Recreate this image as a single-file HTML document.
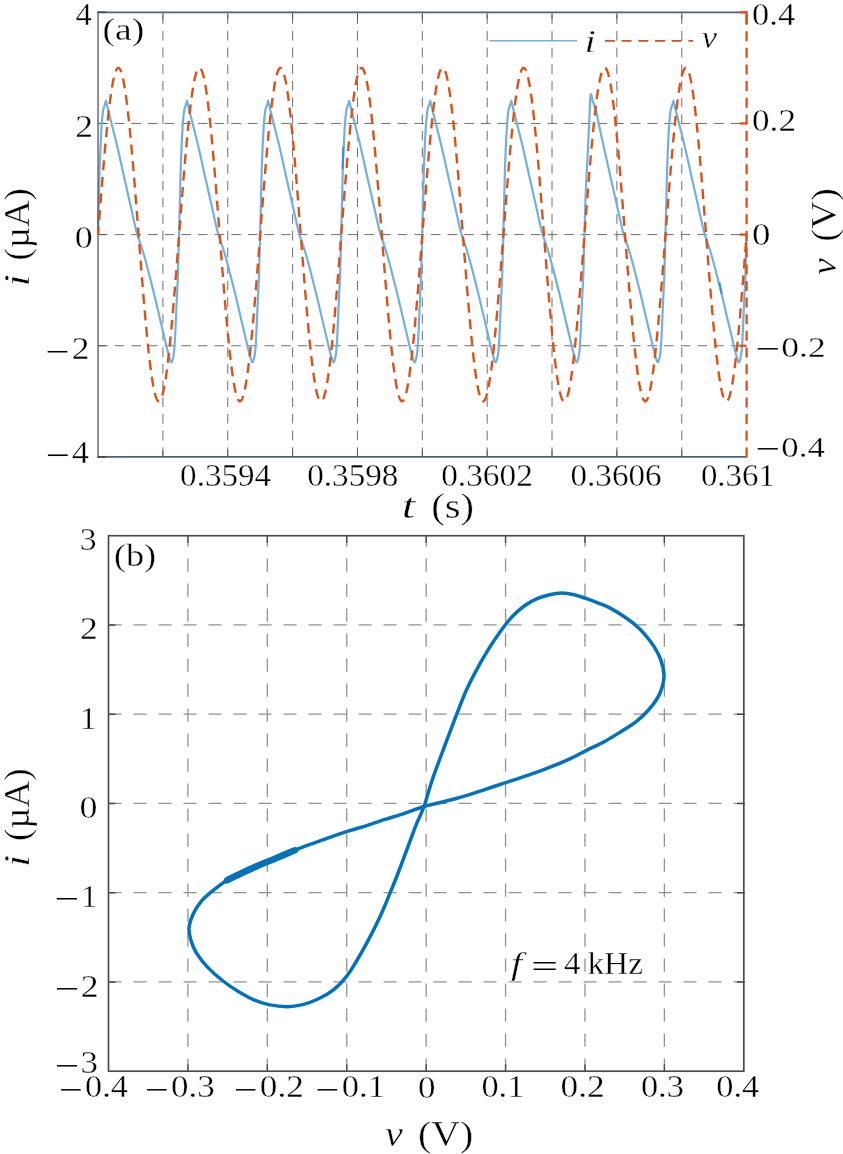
<!DOCTYPE html>
<html><head><meta charset="utf-8"><title>figure</title>
<style>html,body{margin:0;padding:0;background:#fff}svg{display:block}text{font-family:"Liberation Serif",serif;font-size:28.0px;fill:#000;stroke:#fff;stroke-width:0.3px}</style></head>
<body><svg width="843" height="1154" viewBox="0 0 843 1154">
<rect width="843" height="1154" fill="#fff"/>
<g stroke="#5e5e5e" stroke-width="0.9" stroke-dasharray="9.6 7.05" fill="none"><path d="M162.91 456.90V12.30"/><path d="M227.76 456.90V12.30"/><path d="M292.62 456.90V12.30"/><path d="M357.47 456.90V12.30"/><path d="M422.33 456.90V12.30"/><path d="M487.18 456.90V12.30"/><path d="M552.03 456.90V12.30"/><path d="M616.89 456.90V12.30"/><path d="M681.75 456.90V12.30"/><path d="M98.05 123.45H746.60"/><path d="M98.05 234.60H746.60"/><path d="M98.05 345.75H746.60"/></g>
<g stroke="#555" stroke-width="0.9" fill="none"><path d="M162.91 12.30v7M162.91 456.90v-7"/><path d="M227.76 12.30v7M227.76 456.90v-7"/><path d="M292.62 12.30v7M292.62 456.90v-7"/><path d="M357.47 12.30v7M357.47 456.90v-7"/><path d="M422.33 12.30v7M422.33 456.90v-7"/><path d="M487.18 12.30v7M487.18 456.90v-7"/><path d="M552.03 12.30v7M552.03 456.90v-7"/><path d="M616.89 12.30v7M616.89 456.90v-7"/><path d="M681.75 12.30v7M681.75 456.90v-7"/><path d="M98.05 123.45h8"/><path d="M98.05 234.60h8"/><path d="M98.05 345.75h8"/></g>
<path d="M98.05 234.60C98.08 232.66 98.03 232.04 98.20 224.90C98.37 217.76 98.64 209.30 98.90 198.90C99.16 188.50 99.18 183.30 99.50 172.90C99.82 162.50 100.04 156.84 100.50 146.90C100.96 136.96 101.28 130.46 101.80 123.20C102.32 115.94 102.58 114.04 103.10 110.60C103.62 107.16 103.89 107.72 104.40 106.00C104.91 104.28 105.34 103.04 105.65 102.00C105.96 100.96 105.82 100.76 105.95 100.80C106.08 100.84 105.83 100.24 106.30 102.20C106.77 104.16 107.26 106.40 108.30 110.60C109.34 114.80 109.68 115.94 111.50 123.20C113.32 130.46 115.06 136.96 117.40 146.90C119.74 156.84 120.86 162.50 123.20 172.90C125.54 183.30 126.76 188.50 129.10 198.90C131.44 209.30 133.25 217.76 134.90 224.90C136.55 232.04 135.59 228.78 137.35 234.60C139.11 240.42 141.25 245.70 143.70 254.00C146.16 262.30 147.39 267.54 149.61 276.10C151.83 284.66 152.73 288.24 154.81 296.80C156.89 305.36 157.93 310.06 160.01 318.90C162.09 327.74 163.39 333.46 165.21 341.00C167.03 348.54 167.87 352.32 169.11 356.60C170.35 360.88 170.57 362.40 171.41 362.40C172.25 362.40 172.67 359.90 173.31 356.60C173.95 353.30 174.09 353.44 174.61 345.90C175.13 338.36 175.45 328.72 175.91 318.90C176.37 309.08 176.51 305.36 176.91 296.80C177.31 288.24 177.59 284.66 177.91 276.10C178.23 267.54 178.27 262.30 178.51 254.00C178.75 245.70 178.97 240.42 179.12 234.60C179.27 228.78 179.10 232.04 179.27 224.90C179.44 217.76 179.71 209.30 179.97 198.90C180.23 188.50 180.25 183.30 180.57 172.90C180.89 162.50 181.11 156.84 181.57 146.90C182.03 136.96 182.35 130.46 182.87 123.20C183.39 115.94 183.65 114.04 184.17 110.60C184.69 107.16 184.96 107.72 185.47 106.00C185.98 104.28 186.41 103.04 186.72 102.00C187.03 100.96 186.89 100.76 187.02 100.80C187.15 100.84 186.90 100.24 187.37 102.20C187.84 104.16 188.33 106.40 189.37 110.60C190.41 114.80 190.75 115.94 192.57 123.20C194.39 130.46 196.13 136.96 198.47 146.90C200.81 156.84 201.93 162.50 204.27 172.90C206.61 183.30 207.83 188.50 210.17 198.90C212.51 209.30 214.32 217.76 215.97 224.90C217.62 232.04 216.66 228.78 218.42 234.60C220.18 240.42 222.32 245.70 224.77 254.00C227.22 262.30 228.45 267.54 230.67 276.10C232.89 284.66 233.79 288.24 235.87 296.80C237.96 305.36 239.00 310.06 241.08 318.90C243.16 327.74 244.46 333.46 246.28 341.00C248.10 348.54 248.94 352.32 250.18 356.60C251.42 360.88 251.64 362.40 252.48 362.40C253.32 362.40 253.74 359.90 254.38 356.60C255.02 353.30 255.16 353.44 255.68 345.90C256.20 338.36 256.52 328.72 256.98 318.90C257.44 309.08 257.58 305.36 257.98 296.80C258.38 288.24 258.66 284.66 258.98 276.10C259.30 267.54 259.34 262.30 259.58 254.00C259.82 245.70 260.04 240.42 260.19 234.60C260.34 228.78 260.17 232.04 260.34 224.90C260.51 217.76 260.78 209.30 261.04 198.90C261.30 188.50 261.32 183.30 261.64 172.90C261.96 162.50 262.18 156.84 262.64 146.90C263.10 136.96 263.42 130.46 263.94 123.20C264.46 115.94 264.72 114.04 265.24 110.60C265.76 107.16 266.03 107.72 266.54 106.00C267.05 104.28 267.48 103.04 267.79 102.00C268.10 100.96 267.96 100.76 268.09 100.80C268.22 100.84 267.97 100.24 268.44 102.20C268.91 104.16 269.40 106.40 270.44 110.60C271.48 114.80 271.82 115.94 273.64 123.20C275.46 130.46 277.20 136.96 279.54 146.90C281.88 156.84 283.00 162.50 285.34 172.90C287.68 183.30 288.90 188.50 291.24 198.90C293.58 209.30 295.39 217.76 297.04 224.90C298.69 232.04 297.73 228.78 299.49 234.60C301.25 240.42 303.39 245.70 305.84 254.00C308.29 262.30 309.52 267.54 311.74 276.10C313.96 284.66 314.86 288.24 316.94 296.80C319.02 305.36 320.06 310.06 322.14 318.90C324.22 327.74 325.52 333.46 327.34 341.00C329.16 348.54 330.01 352.32 331.25 356.60C332.49 360.88 332.71 362.40 333.55 362.40C334.39 362.40 334.81 359.90 335.45 356.60C336.09 353.30 336.23 353.44 336.75 345.90C337.27 338.36 337.59 328.72 338.05 318.90C338.51 309.08 338.65 305.36 339.05 296.80C339.45 288.24 339.73 284.66 340.05 276.10C340.37 267.54 340.40 262.30 340.65 254.00C340.89 245.70 341.10 240.42 341.26 234.60C341.41 228.78 341.24 232.04 341.41 224.90C341.58 217.76 341.85 209.30 342.11 198.90C342.37 188.50 342.39 183.30 342.71 172.90C343.03 162.50 343.25 156.84 343.71 146.90C344.17 136.96 344.49 130.46 345.01 123.20C345.53 115.94 345.79 114.04 346.31 110.60C346.83 107.16 347.10 107.72 347.61 106.00C348.12 104.28 348.55 103.04 348.86 102.00C349.17 100.96 349.03 100.76 349.16 100.80C349.29 100.84 349.04 100.24 349.51 102.20C349.98 104.16 350.47 106.40 351.51 110.60C352.55 114.80 352.89 115.94 354.71 123.20C356.53 130.46 358.27 136.96 360.61 146.90C362.95 156.84 364.07 162.50 366.41 172.90C368.75 183.30 369.97 188.50 372.31 198.90C374.65 209.30 376.46 217.76 378.11 224.90C379.76 232.04 378.80 228.78 380.56 234.60C382.32 240.42 384.46 245.70 386.91 254.00C389.36 262.30 390.59 267.54 392.81 276.10C395.03 284.66 395.93 288.24 398.01 296.80C400.09 305.36 401.13 310.06 403.21 318.90C405.29 327.74 406.59 333.46 408.41 341.00C410.23 348.54 411.07 352.32 412.31 356.60C413.55 360.88 413.77 362.40 414.61 362.40C415.45 362.40 415.87 359.90 416.51 356.60C417.15 353.30 417.29 353.44 417.81 345.90C418.33 338.36 418.65 328.72 419.11 318.90C419.57 309.08 419.71 305.36 420.11 296.80C420.51 288.24 420.79 284.66 421.11 276.10C421.43 267.54 421.47 262.30 421.71 254.00C421.96 245.70 422.17 240.42 422.33 234.60C422.48 228.78 422.30 232.04 422.48 224.90C422.65 217.76 422.92 209.30 423.18 198.90C423.44 188.50 423.46 183.30 423.78 172.90C424.10 162.50 424.32 156.84 424.78 146.90C425.24 136.96 425.56 130.46 426.08 123.20C426.60 115.94 426.86 114.04 427.38 110.60C427.90 107.16 428.17 107.72 428.68 106.00C429.19 104.28 429.62 103.04 429.93 102.00C430.24 100.96 430.10 100.76 430.23 100.80C430.36 100.84 430.11 100.24 430.58 102.20C431.05 104.16 431.54 106.40 432.58 110.60C433.62 114.80 433.96 115.94 435.78 123.20C437.60 130.46 439.34 136.96 441.68 146.90C444.02 156.84 445.14 162.50 447.48 172.90C449.82 183.30 451.04 188.50 453.38 198.90C455.72 209.30 457.53 217.76 459.18 224.90C460.83 232.04 459.87 228.78 461.63 234.60C463.39 240.42 465.53 245.70 467.98 254.00C470.43 262.30 471.66 267.54 473.88 276.10C476.10 284.66 477.00 288.24 479.08 296.80C481.16 305.36 482.20 310.06 484.28 318.90C486.36 327.74 487.66 333.46 489.48 341.00C491.30 348.54 492.14 352.32 493.38 356.60C494.62 360.88 494.84 362.40 495.68 362.40C496.52 362.40 496.94 359.90 497.58 356.60C498.22 353.30 498.36 353.44 498.88 345.90C499.40 338.36 499.72 328.72 500.18 318.90C500.64 309.08 500.78 305.36 501.18 296.80C501.58 288.24 501.86 284.66 502.18 276.10C502.50 267.54 502.54 262.30 502.78 254.00C503.03 245.70 503.24 240.42 503.39 234.60C503.55 228.78 503.37 232.04 503.54 224.90C503.71 217.76 503.98 209.30 504.24 198.90C504.50 188.50 504.52 183.30 504.84 172.90C505.16 162.50 505.38 156.84 505.84 146.90C506.30 136.96 506.62 130.46 507.14 123.20C507.66 115.94 507.92 114.04 508.44 110.60C508.96 107.16 509.23 107.72 509.74 106.00C510.25 104.28 510.68 103.04 510.99 102.00C511.30 100.96 511.16 100.76 511.29 100.80C511.42 100.84 511.17 100.24 511.64 102.20C512.11 104.16 512.60 106.40 513.64 110.60C514.68 114.80 515.03 115.94 516.85 123.20C518.67 130.46 520.41 136.96 522.75 146.90C525.09 156.84 526.21 162.50 528.55 172.90C530.89 183.30 532.11 188.50 534.45 198.90C536.79 209.30 538.60 217.76 540.25 224.90C541.90 232.04 540.94 228.78 542.70 234.60C544.46 240.42 546.60 245.70 549.05 254.00C551.50 262.30 552.73 267.54 554.95 276.10C557.17 284.66 558.07 288.24 560.15 296.80C562.23 305.36 563.27 310.06 565.35 318.90C567.43 327.74 568.73 333.46 570.55 341.00C572.37 348.54 573.21 352.32 574.45 356.60C575.69 360.88 575.91 362.40 576.75 362.40C577.59 362.40 578.01 359.90 578.65 356.60C579.29 353.30 579.43 353.44 579.95 345.90C580.47 338.36 580.79 328.72 581.25 318.90C581.71 309.08 581.85 305.36 582.25 296.80C582.65 288.24 582.93 284.66 583.25 276.10C583.57 267.54 583.61 262.30 583.85 254.00C584.09 245.70 584.14 245.44 584.46 234.60C584.78 223.76 584.98 212.72 585.46 199.80C585.94 186.88 586.38 179.96 586.86 170.00C587.34 160.04 587.38 159.68 587.86 150.00C588.34 140.32 588.72 132.54 589.26 121.60C589.80 110.66 589.86 99.40 590.56 95.30C591.26 91.20 591.62 97.90 592.76 101.10C593.90 104.30 595.08 106.84 596.26 111.30C597.44 115.76 597.15 116.28 598.66 123.40C600.17 130.52 601.62 137.00 603.81 146.90C606.00 156.80 607.27 162.50 609.62 172.90C611.96 183.30 613.18 188.50 615.52 198.90C617.86 209.30 619.67 217.76 621.32 224.90C622.97 232.04 622.01 228.78 623.77 234.60C625.53 240.42 627.67 245.70 630.12 254.00C632.57 262.30 633.80 267.54 636.02 276.10C638.24 284.66 639.14 288.24 641.22 296.80C643.30 305.36 644.34 310.06 646.42 318.90C648.50 327.74 649.80 333.46 651.62 341.00C653.44 348.54 654.28 352.32 655.52 356.60C656.76 360.88 656.98 362.40 657.82 362.40C658.66 362.40 659.08 359.90 659.72 356.60C660.36 353.30 660.50 353.44 661.02 345.90C661.54 338.36 661.86 328.72 662.32 318.90C662.78 309.08 662.92 305.36 663.32 296.80C663.72 288.24 664.00 284.66 664.32 276.10C664.64 267.54 664.68 262.30 664.92 254.00C665.16 245.70 665.38 240.42 665.53 234.60C665.68 228.78 665.51 232.04 665.68 224.90C665.85 217.76 666.12 209.30 666.38 198.90C666.64 188.50 666.66 183.30 666.98 172.90C667.30 162.50 667.52 156.84 667.98 146.90C668.44 136.96 668.76 130.46 669.28 123.20C669.80 115.94 670.06 114.04 670.58 110.60C671.10 107.16 671.37 107.72 671.88 106.00C672.39 104.28 672.82 103.04 673.13 102.00C673.44 100.96 673.30 100.76 673.43 100.80C673.56 100.84 673.31 100.24 673.78 102.20C674.25 104.16 674.74 106.40 675.78 110.60C676.82 114.80 677.16 115.94 678.98 123.20C680.80 130.46 682.54 136.96 684.88 146.90C687.22 156.84 688.34 162.50 690.68 172.90C693.02 183.30 694.24 188.50 696.58 198.90C698.92 209.30 700.74 217.76 702.39 224.90C704.04 232.04 703.08 228.78 704.84 234.60C706.60 240.42 708.74 245.70 711.19 254.00C713.64 262.30 714.87 267.54 717.09 276.10C719.31 284.66 720.21 288.24 722.29 296.80C724.37 305.36 725.41 310.06 727.49 318.90C729.57 327.74 730.87 333.46 732.69 341.00C734.51 348.54 735.35 352.32 736.59 356.60C737.83 360.88 738.05 362.40 738.89 362.40C739.73 362.40 740.15 359.90 740.79 356.60C741.43 353.30 741.57 353.44 742.09 345.90C742.61 338.36 742.93 328.72 743.39 318.90C743.85 309.08 743.99 305.36 744.39 296.80C744.79 288.24 745.07 284.66 745.39 276.10C745.71 267.54 745.75 262.30 745.99 254.00C746.23 245.70 746.48 238.48 746.60 234.60" fill="none" stroke="#72b1dc" stroke-width="2.2" stroke-linejoin="round"/>
<path d="M98.05 12.30V456.90" stroke="#555" stroke-width="1.3" fill="none"/>
<path d="M97.35 12.30H746.60M97.35 456.90H746.60" stroke="#46627c" stroke-width="1.7" fill="none"/>
<path d="M97.45 12.30h8.6M97.45 456.90h8.6" stroke="#444" stroke-width="1.5" fill="none"/>
<path d="M746.60 11.60V457.60" stroke="#d95319" stroke-width="2.3" stroke-dasharray="10 6.65" stroke-dashoffset="13.75" fill="none"/>
<g stroke="#d95319" stroke-width="2.3" fill="none"><path d="M746.60 12.30h-7"/><path d="M746.60 123.45h-7"/><path d="M746.60 234.60h-7"/><path d="M746.60 345.75h-7"/><path d="M746.60 11.15V24.5"/></g>
<path d="M98.05 234.60v-22" stroke="#2f78b5" stroke-width="1.4" fill="none"/>
<path d="M719.3 282.5L721.7 293.5" stroke="#3d8fd0" stroke-width="2.1" fill="none"/>
<path d="M342.6 169L343.3 147" stroke="#3d8fd0" stroke-width="2.1" fill="none"/>
<path d="M98.05 234.60L98.46 229.36L98.86 224.13L99.27 218.91L99.67 213.70L100.08 208.52L100.48 203.36L100.89 198.23L101.29 193.14L101.70 188.09L102.10 183.08L102.51 178.12L102.91 173.22L103.32 168.39L103.72 163.61L104.13 158.91L104.54 154.28L104.94 149.73L105.35 145.26L105.75 140.89L106.16 136.60L106.56 132.41L106.97 128.33L107.37 124.34L107.78 120.47L108.18 116.71L108.59 113.06L108.99 109.54L109.40 106.14L109.80 102.86L110.21 99.72L110.62 96.70L111.02 93.83L111.43 91.09L111.83 88.50L112.24 86.05L112.64 83.74L113.05 81.59L113.45 79.58L113.86 77.73L114.26 76.04L114.67 74.50L115.07 73.11L115.48 71.89L115.89 70.83L116.29 69.93L116.70 69.19L117.10 68.61L117.51 68.20L117.91 67.96L118.32 67.88L118.72 67.96L119.13 68.20L119.53 68.61L119.94 69.19L120.34 69.93L120.75 70.83L121.15 71.89L121.56 73.11L121.97 74.50L122.37 76.04L122.78 77.73L123.18 79.58L123.59 81.59L123.99 83.74L124.40 86.05L124.80 88.50L125.21 91.09L125.61 93.83L126.02 96.70L126.42 99.72L126.83 102.86L127.23 106.14L127.64 109.54L128.05 113.06L128.45 116.71L128.86 120.47L129.26 124.34L129.67 128.33L130.07 132.41L130.48 136.60L130.88 140.89L131.29 145.26L131.69 149.73L132.10 154.28L132.50 158.91L132.91 163.61L133.31 168.39L133.72 173.22L134.13 178.12L134.53 183.08L134.94 188.09L135.34 193.14L135.75 198.23L136.15 203.36L136.56 208.52L136.96 213.70L137.37 218.91L137.77 224.13L138.18 229.36L138.58 234.60L138.99 239.84L139.40 245.07L139.80 250.29L140.21 255.50L140.61 260.68L141.02 265.84L141.42 270.97L141.83 276.06L142.23 281.11L142.64 286.12L143.04 291.08L143.45 295.98L143.85 300.81L144.26 305.59L144.66 310.29L145.07 314.92L145.48 319.47L145.88 323.94L146.29 328.31L146.69 332.60L147.10 336.79L147.50 340.87L147.91 344.86L148.31 348.73L148.72 352.49L149.12 356.14L149.53 359.66L149.93 363.06L150.34 366.34L150.74 369.48L151.15 372.50L151.56 375.37L151.96 378.11L152.37 380.70L152.77 383.15L153.18 385.46L153.58 387.61L153.99 389.62L154.39 391.47L154.80 393.16L155.20 394.70L155.61 396.09L156.01 397.31L156.42 398.37L156.82 399.27L157.23 400.01L157.64 400.59L158.04 401.00L158.45 401.24L158.85 401.32L159.26 401.24L159.66 401.00L160.07 400.59L160.47 400.01L160.88 399.27L161.28 398.37L161.69 397.31L162.09 396.09L162.50 394.70L162.91 393.16L163.31 391.47L163.72 389.62L164.12 387.61L164.53 385.46L164.93 383.15L165.34 380.70L165.74 378.11L166.15 375.37L166.55 372.50L166.96 369.48L167.36 366.34L167.77 363.06L168.17 359.66L168.58 356.14L168.99 352.49L169.39 348.73L169.80 344.86L170.20 340.87L170.61 336.79L171.01 332.60L171.42 328.31L171.82 323.94L172.23 319.47L172.63 314.92L173.04 310.29L173.44 305.59L173.85 300.81L174.25 295.98L174.66 291.08L175.07 286.12L175.47 281.11L175.88 276.06L176.28 270.97L176.69 265.84L177.09 260.68L177.50 255.50L177.90 250.29L178.31 245.07L178.71 239.84L179.12 234.60L179.52 229.36L179.93 224.13L180.33 218.91L180.74 213.70L181.15 208.52L181.55 203.36L181.96 198.23L182.36 193.14L182.77 188.09L183.17 183.08L183.58 178.12L183.98 173.22L184.39 168.39L184.79 163.61L185.20 158.91L185.60 154.28L186.01 149.73L186.41 145.26L186.82 140.89L187.23 136.60L187.63 132.41L188.04 128.33L188.44 124.34L188.85 120.47L189.25 116.71L189.66 113.06L190.06 109.54L190.47 106.14L190.87 102.86L191.28 99.72L191.68 96.70L192.09 93.83L192.50 91.09L192.90 88.50L193.31 86.05L193.71 83.74L194.12 81.59L194.52 79.58L194.93 77.73L195.33 76.04L195.74 74.50L196.14 73.11L196.55 71.89L196.95 70.83L197.36 69.93L197.76 69.19L198.17 68.61L198.58 68.20L198.98 67.96L199.39 67.88L199.79 67.96L200.20 68.20L200.60 68.61L201.01 69.19L201.41 69.93L201.82 70.83L202.22 71.89L202.63 73.11L203.03 74.50L203.44 76.04L203.84 77.73L204.25 79.58L204.66 81.59L205.06 83.74L205.47 86.05L205.87 88.50L206.28 91.09L206.68 93.83L207.09 96.70L207.49 99.72L207.90 102.86L208.30 106.14L208.71 109.54L209.11 113.06L209.52 116.71L209.92 120.47L210.33 124.34L210.74 128.33L211.14 132.41L211.55 136.60L211.95 140.89L212.36 145.26L212.76 149.73L213.17 154.28L213.57 158.91L213.98 163.61L214.38 168.39L214.79 173.22L215.19 178.12L215.60 183.08L216.01 188.09L216.41 193.14L216.82 198.23L217.22 203.36L217.63 208.52L218.03 213.70L218.44 218.91L218.84 224.13L219.25 229.36L219.65 234.60L220.06 239.84L220.46 245.07L220.87 250.29L221.27 255.50L221.68 260.68L222.09 265.84L222.49 270.97L222.90 276.06L223.30 281.11L223.71 286.12L224.11 291.08L224.52 295.98L224.92 300.81L225.33 305.59L225.73 310.29L226.14 314.92L226.54 319.47L226.95 323.94L227.35 328.31L227.76 332.60L228.17 336.79L228.57 340.87L228.98 344.86L229.38 348.73L229.79 352.49L230.19 356.14L230.60 359.66L231.00 363.06L231.41 366.34L231.81 369.48L232.22 372.50L232.62 375.37L233.03 378.11L233.43 380.70L233.84 383.15L234.25 385.46L234.65 387.61L235.06 389.62L235.46 391.47L235.87 393.16L236.27 394.70L236.68 396.09L237.08 397.31L237.49 398.37L237.89 399.27L238.30 400.01L238.70 400.59L239.11 401.00L239.51 401.24L239.92 401.32L240.33 401.24L240.73 401.00L241.14 400.59L241.54 400.01L241.95 399.27L242.35 398.37L242.76 397.31L243.16 396.09L243.57 394.70L243.97 393.16L244.38 391.47L244.78 389.62L245.19 387.61L245.60 385.46L246.00 383.15L246.41 380.70L246.81 378.11L247.22 375.37L247.62 372.50L248.03 369.48L248.43 366.34L248.84 363.06L249.24 359.66L249.65 356.14L250.05 352.49L250.46 348.73L250.86 344.86L251.27 340.87L251.68 336.79L252.08 332.60L252.49 328.31L252.89 323.94L253.30 319.47L253.70 314.92L254.11 310.29L254.51 305.59L254.92 300.81L255.32 295.98L255.73 291.08L256.13 286.12L256.54 281.11L256.94 276.06L257.35 270.97L257.76 265.84L258.16 260.68L258.57 255.50L258.97 250.29L259.38 245.07L259.78 239.84L260.19 234.60L260.59 229.36L261.00 224.13L261.40 218.91L261.81 213.70L262.21 208.52L262.62 203.36L263.02 198.23L263.43 193.14L263.84 188.09L264.24 183.08L264.65 178.12L265.05 173.22L265.46 168.39L265.86 163.61L266.27 158.91L266.67 154.28L267.08 149.73L267.48 145.26L267.89 140.89L268.29 136.60L268.70 132.41L269.11 128.33L269.51 124.34L269.92 120.47L270.32 116.71L270.73 113.06L271.13 109.54L271.54 106.14L271.94 102.86L272.35 99.72L272.75 96.70L273.16 93.83L273.56 91.09L273.97 88.50L274.37 86.05L274.78 83.74L275.19 81.59L275.59 79.58L276.00 77.73L276.40 76.04L276.81 74.50L277.21 73.11L277.62 71.89L278.02 70.83L278.43 69.93L278.83 69.19L279.24 68.61L279.64 68.20L280.05 67.96L280.45 67.88L280.86 67.96L281.27 68.20L281.67 68.61L282.08 69.19L282.48 69.93L282.89 70.83L283.29 71.89L283.70 73.11L284.10 74.50L284.51 76.04L284.91 77.73L285.32 79.58L285.72 81.59L286.13 83.74L286.53 86.05L286.94 88.50L287.35 91.09L287.75 93.83L288.16 96.70L288.56 99.72L288.97 102.86L289.37 106.14L289.78 109.54L290.18 113.06L290.59 116.71L290.99 120.47L291.40 124.34L291.80 128.33L292.21 132.41L292.62 136.60L293.02 140.89L293.43 145.26L293.83 149.73L294.24 154.28L294.64 158.91L295.05 163.61L295.45 168.39L295.86 173.22L296.26 178.12L296.67 183.08L297.07 188.09L297.48 193.14L297.88 198.23L298.29 203.36L298.70 208.52L299.10 213.70L299.51 218.91L299.91 224.13L300.32 229.36L300.72 234.60L301.13 239.84L301.53 245.07L301.94 250.29L302.34 255.50L302.75 260.68L303.15 265.84L303.56 270.97L303.96 276.06L304.37 281.11L304.78 286.12L305.18 291.08L305.59 295.98L305.99 300.81L306.40 305.59L306.80 310.29L307.21 314.92L307.61 319.47L308.02 323.94L308.42 328.31L308.83 332.60L309.23 336.79L309.64 340.87L310.04 344.86L310.45 348.73L310.86 352.49L311.26 356.14L311.67 359.66L312.07 363.06L312.48 366.34L312.88 369.48L313.29 372.50L313.69 375.37L314.10 378.11L314.50 380.70L314.91 383.15L315.31 385.46L315.72 387.61L316.12 389.62L316.53 391.47L316.94 393.16L317.34 394.70L317.75 396.09L318.15 397.31L318.56 398.37L318.96 399.27L319.37 400.01L319.77 400.59L320.18 401.00L320.58 401.24L320.99 401.32L321.39 401.24L321.80 401.00L322.21 400.59L322.61 400.01L323.02 399.27L323.42 398.37L323.83 397.31L324.23 396.09L324.64 394.70L325.04 393.16L325.45 391.47L325.85 389.62L326.26 387.61L326.66 385.46L327.07 383.15L327.47 380.70L327.88 378.11L328.29 375.37L328.69 372.50L329.10 369.48L329.50 366.34L329.91 363.06L330.31 359.66L330.72 356.14L331.12 352.49L331.53 348.73L331.93 344.86L332.34 340.87L332.74 336.79L333.15 332.60L333.55 328.31L333.96 323.94L334.37 319.47L334.77 314.92L335.18 310.29L335.58 305.59L335.99 300.81L336.39 295.98L336.80 291.08L337.20 286.12L337.61 281.11L338.01 276.06L338.42 270.97L338.82 265.84L339.23 260.68L339.63 255.50L340.04 250.29L340.45 245.07L340.85 239.84L341.26 234.60L341.66 229.36L342.07 224.13L342.47 218.91L342.88 213.70L343.28 208.52L343.69 203.36L344.09 198.23L344.50 193.14L344.90 188.09L345.31 183.08L345.72 178.12L346.12 173.22L346.53 168.39L346.93 163.61L347.34 158.91L347.74 154.28L348.15 149.73L348.55 145.26L348.96 140.89L349.36 136.60L349.77 132.41L350.17 128.33L350.58 124.34L350.98 120.47L351.39 116.71L351.80 113.06L352.20 109.54L352.61 106.14L353.01 102.86L353.42 99.72L353.82 96.70L354.23 93.83L354.63 91.09L355.04 88.50L355.44 86.05L355.85 83.74L356.25 81.59L356.66 79.58L357.06 77.73L357.47 76.04L357.88 74.50L358.28 73.11L358.69 71.89L359.09 70.83L359.50 69.93L359.90 69.19L360.31 68.61L360.71 68.20L361.12 67.96L361.52 67.88L361.93 67.96L362.33 68.20L362.74 68.61L363.14 69.19L363.55 69.93L363.96 70.83L364.36 71.89L364.77 73.11L365.17 74.50L365.58 76.04L365.98 77.73L366.39 79.58L366.79 81.59L367.20 83.74L367.60 86.05L368.01 88.50L368.41 91.09L368.82 93.83L369.22 96.70L369.63 99.72L370.04 102.86L370.44 106.14L370.85 109.54L371.25 113.06L371.66 116.71L372.06 120.47L372.47 124.34L372.87 128.33L373.28 132.41L373.68 136.60L374.09 140.89L374.49 145.26L374.90 149.73L375.31 154.28L375.71 158.91L376.12 163.61L376.52 168.39L376.93 173.22L377.33 178.12L377.74 183.08L378.14 188.09L378.55 193.14L378.95 198.23L379.36 203.36L379.76 208.52L380.17 213.70L380.57 218.91L380.98 224.13L381.39 229.36L381.79 234.60L382.20 239.84L382.60 245.07L383.01 250.29L383.41 255.50L383.82 260.68L384.22 265.84L384.63 270.97L385.03 276.06L385.44 281.11L385.84 286.12L386.25 291.08L386.65 295.98L387.06 300.81L387.47 305.59L387.87 310.29L388.28 314.92L388.68 319.47L389.09 323.94L389.49 328.31L389.90 332.60L390.30 336.79L390.71 340.87L391.11 344.86L391.52 348.73L391.92 352.49L392.33 356.14L392.73 359.66L393.14 363.06L393.55 366.34L393.95 369.48L394.36 372.50L394.76 375.37L395.17 378.11L395.57 380.70L395.98 383.15L396.38 385.46L396.79 387.61L397.19 389.62L397.60 391.47L398.00 393.16L398.41 394.70L398.82 396.09L399.22 397.31L399.63 398.37L400.03 399.27L400.44 400.01L400.84 400.59L401.25 401.00L401.65 401.24L402.06 401.32L402.46 401.24L402.87 401.00L403.27 400.59L403.68 400.01L404.08 399.27L404.49 398.37L404.90 397.31L405.30 396.09L405.71 394.70L406.11 393.16L406.52 391.47L406.92 389.62L407.33 387.61L407.73 385.46L408.14 383.15L408.54 380.70L408.95 378.11L409.35 375.37L409.76 372.50L410.16 369.48L410.57 366.34L410.98 363.06L411.38 359.66L411.79 356.14L412.19 352.49L412.60 348.73L413.00 344.86L413.41 340.87L413.81 336.79L414.22 332.60L414.62 328.31L415.03 323.94L415.43 319.47L415.84 314.92L416.24 310.29L416.65 305.59L417.06 300.81L417.46 295.98L417.87 291.08L418.27 286.12L418.68 281.11L419.08 276.06L419.49 270.97L419.89 265.84L420.30 260.68L420.70 255.50L421.11 250.29L421.51 245.07L421.92 239.84L422.33 234.60L422.73 229.36L423.14 224.13L423.54 218.91L423.95 213.70L424.35 208.52L424.76 203.36L425.16 198.23L425.57 193.14L425.97 188.09L426.38 183.08L426.78 178.12L427.19 173.22L427.59 168.39L428.00 163.61L428.41 158.91L428.81 154.28L429.22 149.73L429.62 145.26L430.03 140.89L430.43 136.60L430.84 132.41L431.24 128.33L431.65 124.34L432.05 120.47L432.46 116.71L432.86 113.06L433.27 109.54L433.67 106.14L434.08 102.86L434.49 99.72L434.89 96.70L435.30 93.83L435.70 91.09L436.11 88.50L436.51 86.05L436.92 83.74L437.32 81.59L437.73 79.58L438.13 77.73L438.54 76.04L438.94 74.50L439.35 73.11L439.75 71.89L440.16 70.83L440.57 69.93L440.97 69.19L441.38 68.61L441.78 68.20L442.19 67.96L442.59 67.88L443.00 67.96L443.40 68.20L443.81 68.61L444.21 69.19L444.62 69.93L445.02 70.83L445.43 71.89L445.83 73.11L446.24 74.50L446.65 76.04L447.05 77.73L447.46 79.58L447.86 81.59L448.27 83.74L448.67 86.05L449.08 88.50L449.48 91.09L449.89 93.83L450.29 96.70L450.70 99.72L451.10 102.86L451.51 106.14L451.92 109.54L452.32 113.06L452.73 116.71L453.13 120.47L453.54 124.34L453.94 128.33L454.35 132.41L454.75 136.60L455.16 140.89L455.56 145.26L455.97 149.73L456.37 154.28L456.78 158.91L457.18 163.61L457.59 168.39L458.00 173.22L458.40 178.12L458.81 183.08L459.21 188.09L459.62 193.14L460.02 198.23L460.43 203.36L460.83 208.52L461.24 213.70L461.64 218.91L462.05 224.13L462.45 229.36L462.86 234.60L463.26 239.84L463.67 245.07L464.08 250.29L464.48 255.50L464.89 260.68L465.29 265.84L465.70 270.97L466.10 276.06L466.51 281.11L466.91 286.12L467.32 291.08L467.72 295.98L468.13 300.81L468.53 305.59L468.94 310.29L469.34 314.92L469.75 319.47L470.16 323.94L470.56 328.31L470.97 332.60L471.37 336.79L471.78 340.87L472.18 344.86L472.59 348.73L472.99 352.49L473.40 356.14L473.80 359.66L474.21 363.06L474.61 366.34L475.02 369.48L475.43 372.50L475.83 375.37L476.24 378.11L476.64 380.70L477.05 383.15L477.45 385.46L477.86 387.61L478.26 389.62L478.67 391.47L479.07 393.16L479.48 394.70L479.88 396.09L480.29 397.31L480.69 398.37L481.10 399.27L481.51 400.01L481.91 400.59L482.32 401.00L482.72 401.24L483.13 401.32L483.53 401.24L483.94 401.00L484.34 400.59L484.75 400.01L485.15 399.27L485.56 398.37L485.96 397.31L486.37 396.09L486.77 394.70L487.18 393.16L487.59 391.47L487.99 389.62L488.40 387.61L488.80 385.46L489.21 383.15L489.61 380.70L490.02 378.11L490.42 375.37L490.83 372.50L491.23 369.48L491.64 366.34L492.04 363.06L492.45 359.66L492.85 356.14L493.26 352.49L493.67 348.73L494.07 344.86L494.48 340.87L494.88 336.79L495.29 332.60L495.69 328.31L496.10 323.94L496.50 319.47L496.91 314.92L497.31 310.29L497.72 305.59L498.12 300.81L498.53 295.98L498.93 291.08L499.34 286.12L499.75 281.11L500.15 276.06L500.56 270.97L500.96 265.84L501.37 260.68L501.77 255.50L502.18 250.29L502.58 245.07L502.99 239.84L503.39 234.60L503.80 229.36L504.20 224.13L504.61 218.91L505.02 213.70L505.42 208.52L505.83 203.36L506.23 198.23L506.64 193.14L507.04 188.09L507.45 183.08L507.85 178.12L508.26 173.22L508.66 168.39L509.07 163.61L509.47 158.91L509.88 154.28L510.28 149.73L510.69 145.26L511.10 140.89L511.50 136.60L511.91 132.41L512.31 128.33L512.72 124.34L513.12 120.47L513.53 116.71L513.93 113.06L514.34 109.54L514.74 106.14L515.15 102.86L515.55 99.72L515.96 96.70L516.36 93.83L516.77 91.09L517.18 88.50L517.58 86.05L517.99 83.74L518.39 81.59L518.80 79.58L519.20 77.73L519.61 76.04L520.01 74.50L520.42 73.11L520.82 71.89L521.23 70.83L521.63 69.93L522.04 69.19L522.44 68.61L522.85 68.20L523.26 67.96L523.66 67.88L524.07 67.96L524.47 68.20L524.88 68.61L525.28 69.19L525.69 69.93L526.09 70.83L526.50 71.89L526.90 73.11L527.31 74.50L527.71 76.04L528.12 77.73L528.53 79.58L528.93 81.59L529.34 83.74L529.74 86.05L530.15 88.50L530.55 91.09L530.96 93.83L531.36 96.70L531.77 99.72L532.17 102.86L532.58 106.14L532.98 109.54L533.39 113.06L533.79 116.71L534.20 120.47L534.61 124.34L535.01 128.33L535.42 132.41L535.82 136.60L536.23 140.89L536.63 145.26L537.04 149.73L537.44 154.28L537.85 158.91L538.25 163.61L538.66 168.39L539.06 173.22L539.47 178.12L539.87 183.08L540.28 188.09L540.69 193.14L541.09 198.23L541.50 203.36L541.90 208.52L542.31 213.70L542.71 218.91L543.12 224.13L543.52 229.36L543.93 234.60L544.33 239.84L544.74 245.07L545.14 250.29L545.55 255.50L545.95 260.68L546.36 265.84L546.77 270.97L547.17 276.06L547.58 281.11L547.98 286.12L548.39 291.08L548.79 295.98L549.20 300.81L549.60 305.59L550.01 310.29L550.41 314.92L550.82 319.47L551.22 323.94L551.63 328.31L552.04 332.60L552.44 336.79L552.85 340.87L553.25 344.86L553.66 348.73L554.06 352.49L554.47 356.14L554.87 359.66L555.28 363.06L555.68 366.34L556.09 369.48L556.49 372.50L556.90 375.37L557.30 378.11L557.71 380.70L558.12 383.15L558.52 385.46L558.93 387.61L559.33 389.62L559.74 391.47L560.14 393.16L560.55 394.70L560.95 396.09L561.36 397.31L561.76 398.37L562.17 399.27L562.57 400.01L562.98 400.59L563.38 401.00L563.79 401.24L564.20 401.32L564.60 401.24L565.01 401.00L565.41 400.59L565.82 400.01L566.22 399.27L566.63 398.37L567.03 397.31L567.44 396.09L567.84 394.70L568.25 393.16L568.65 391.47L569.06 389.62L569.46 387.61L569.87 385.46L570.28 383.15L570.68 380.70L571.09 378.11L571.49 375.37L571.90 372.50L572.30 369.48L572.71 366.34L573.11 363.06L573.52 359.66L573.92 356.14L574.33 352.49L574.73 348.73L575.14 344.86L575.54 340.87L575.95 336.79L576.36 332.60L576.76 328.31L577.17 323.94L577.57 319.47L577.98 314.92L578.38 310.29L578.79 305.59L579.19 300.81L579.60 295.98L580.00 291.08L580.41 286.12L580.81 281.11L581.22 276.06L581.63 270.97L582.03 265.84L582.44 260.68L582.84 255.50L583.25 250.29L583.65 245.07L584.06 239.84L584.46 234.60L584.87 229.36L585.27 224.13L585.68 218.91L586.08 213.70L586.49 208.52L586.89 203.36L587.30 198.23L587.71 193.14L588.11 188.09L588.52 183.08L588.92 178.12L589.33 173.22L589.73 168.39L590.14 163.61L590.54 158.91L590.95 154.28L591.35 149.73L591.76 145.26L592.16 140.89L592.57 136.60L592.97 132.41L593.38 128.33L593.79 124.34L594.19 120.47L594.60 116.71L595.00 113.06L595.41 109.54L595.81 106.14L596.22 102.86L596.62 99.72L597.03 96.70L597.43 93.83L597.84 91.09L598.24 88.50L598.65 86.05L599.05 83.74L599.46 81.59L599.87 79.58L600.27 77.73L600.68 76.04L601.08 74.50L601.49 73.11L601.89 71.89L602.30 70.83L602.70 69.93L603.11 69.19L603.51 68.61L603.92 68.20L604.32 67.96L604.73 67.88L605.14 67.96L605.54 68.20L605.95 68.61L606.35 69.19L606.76 69.93L607.16 70.83L607.57 71.89L607.97 73.11L608.38 74.50L608.78 76.04L609.19 77.73L609.59 79.58L610.00 81.59L610.40 83.74L610.81 86.05L611.22 88.50L611.62 91.09L612.03 93.83L612.43 96.70L612.84 99.72L613.24 102.86L613.65 106.14L614.05 109.54L614.46 113.06L614.86 116.71L615.27 120.47L615.67 124.34L616.08 128.33L616.48 132.41L616.89 136.60L617.30 140.89L617.70 145.26L618.11 149.73L618.51 154.28L618.92 158.91L619.32 163.61L619.73 168.39L620.13 173.22L620.54 178.12L620.94 183.08L621.35 188.09L621.75 193.14L622.16 198.23L622.56 203.36L622.97 208.52L623.38 213.70L623.78 218.91L624.19 224.13L624.59 229.36L625.00 234.60L625.40 239.84L625.81 245.07L626.21 250.29L626.62 255.50L627.02 260.68L627.43 265.84L627.83 270.97L628.24 276.06L628.64 281.11L629.05 286.12L629.46 291.08L629.86 295.98L630.27 300.81L630.67 305.59L631.08 310.29L631.48 314.92L631.89 319.47L632.29 323.94L632.70 328.31L633.10 332.60L633.51 336.79L633.91 340.87L634.32 344.86L634.73 348.73L635.13 352.49L635.54 356.14L635.94 359.66L636.35 363.06L636.75 366.34L637.16 369.48L637.56 372.50L637.97 375.37L638.37 378.11L638.78 380.70L639.18 383.15L639.59 385.46L639.99 387.61L640.40 389.62L640.81 391.47L641.21 393.16L641.62 394.70L642.02 396.09L642.43 397.31L642.83 398.37L643.24 399.27L643.64 400.01L644.05 400.59L644.45 401.00L644.86 401.24L645.26 401.32L645.67 401.24L646.07 401.00L646.48 400.59L646.89 400.01L647.29 399.27L647.70 398.37L648.10 397.31L648.51 396.09L648.91 394.70L649.32 393.16L649.72 391.47L650.13 389.62L650.53 387.61L650.94 385.46L651.34 383.15L651.75 380.70L652.15 378.11L652.56 375.37L652.97 372.50L653.37 369.48L653.78 366.34L654.18 363.06L654.59 359.66L654.99 356.14L655.40 352.49L655.80 348.73L656.21 344.86L656.61 340.87L657.02 336.79L657.42 332.60L657.83 328.31L658.24 323.94L658.64 319.47L659.05 314.92L659.45 310.29L659.86 305.59L660.26 300.81L660.67 295.98L661.07 291.08L661.48 286.12L661.88 281.11L662.29 276.06L662.69 270.97L663.10 265.84L663.50 260.68L663.91 255.50L664.32 250.29L664.72 245.07L665.13 239.84L665.53 234.60L665.94 229.36L666.34 224.13L666.75 218.91L667.15 213.70L667.56 208.52L667.96 203.36L668.37 198.23L668.77 193.14L669.18 188.09L669.58 183.08L669.99 178.12L670.40 173.22L670.80 168.39L671.21 163.61L671.61 158.91L672.02 154.28L672.42 149.73L672.83 145.26L673.23 140.89L673.64 136.60L674.04 132.41L674.45 128.33L674.85 124.34L675.26 120.47L675.66 116.71L676.07 113.06L676.48 109.54L676.88 106.14L677.29 102.86L677.69 99.72L678.10 96.70L678.50 93.83L678.91 91.09L679.31 88.50L679.72 86.05L680.12 83.74L680.53 81.59L680.93 79.58L681.34 77.73L681.75 76.04L682.15 74.50L682.56 73.11L682.96 71.89L683.37 70.83L683.77 69.93L684.18 69.19L684.58 68.61L684.99 68.20L685.39 67.96L685.80 67.88L686.20 67.96L686.61 68.20L687.01 68.61L687.42 69.19L687.83 69.93L688.23 70.83L688.64 71.89L689.04 73.11L689.45 74.50L689.85 76.04L690.26 77.73L690.66 79.58L691.07 81.59L691.47 83.74L691.88 86.05L692.28 88.50L692.69 91.09L693.09 93.83L693.50 96.70L693.91 99.72L694.31 102.86L694.72 106.14L695.12 109.54L695.53 113.06L695.93 116.71L696.34 120.47L696.74 124.34L697.15 128.33L697.55 132.41L697.96 136.60L698.36 140.89L698.77 145.26L699.17 149.73L699.58 154.28L699.99 158.91L700.39 163.61L700.80 168.39L701.20 173.22L701.61 178.12L702.01 183.08L702.42 188.09L702.82 193.14L703.23 198.23L703.63 203.36L704.04 208.52L704.44 213.70L704.85 218.91L705.25 224.13L705.66 229.36L706.07 234.60L706.47 239.84L706.88 245.07L707.28 250.29L707.69 255.50L708.09 260.68L708.50 265.84L708.90 270.97L709.31 276.06L709.71 281.11L710.12 286.12L710.52 291.08L710.93 295.98L711.34 300.81L711.74 305.59L712.15 310.29L712.55 314.92L712.96 319.47L713.36 323.94L713.77 328.31L714.17 332.60L714.58 336.79L714.98 340.87L715.39 344.86L715.79 348.73L716.20 352.49L716.60 356.14L717.01 359.66L717.42 363.06L717.82 366.34L718.23 369.48L718.63 372.50L719.04 375.37L719.44 378.11L719.85 380.70L720.25 383.15L720.66 385.46L721.06 387.61L721.47 389.62L721.87 391.47L722.28 393.16L722.68 394.70L723.09 396.09L723.50 397.31L723.90 398.37L724.31 399.27L724.71 400.01L725.12 400.59L725.52 401.00L725.93 401.24L726.33 401.32L726.74 401.24L727.14 401.00L727.55 400.59L727.95 400.01L728.36 399.27L728.76 398.37L729.17 397.31L729.58 396.09L729.98 394.70L730.39 393.16L730.79 391.47L731.20 389.62L731.60 387.61L732.01 385.46L732.41 383.15L732.82 380.70L733.22 378.11L733.63 375.37L734.03 372.50L734.44 369.48L734.85 366.34L735.25 363.06L735.66 359.66L736.06 356.14L736.47 352.49L736.87 348.73L737.28 344.86L737.68 340.87L738.09 336.79L738.49 332.60L738.90 328.31L739.30 323.94L739.71 319.47L740.11 314.92L740.52 310.29L740.93 305.59L741.33 300.81L741.74 295.98L742.14 291.08L742.55 286.12L742.95 281.11L743.36 276.06L743.76 270.97L744.17 265.84L744.57 260.68L744.98 255.50L745.38 250.29L745.79 245.07L746.19 239.84L746.60 234.60" fill="none" stroke="#d95319" stroke-width="2.4" stroke-dasharray="10 6.637" stroke-dashoffset="2" stroke-linejoin="round"/>
<path d="M489.3 40.8H577.2" stroke="#72b1dc" stroke-width="1.6" fill="none"/>
<path d="M604.9 40.8H693.2" stroke="#d95319" stroke-width="1.8" stroke-dasharray="10 6.7" fill="none"/>
<g stroke="#929292" stroke-width="1.3" stroke-dasharray="13.1 11.9" fill="none"><path stroke-dashoffset="0.5" d="M187.91 1071.20V535.70"/><path stroke-dashoffset="0.5" d="M267.32 1071.20V535.70"/><path stroke-dashoffset="0.5" d="M346.74 1071.20V535.70"/><path stroke-dashoffset="0.5" d="M426.15 1071.20V535.70"/><path stroke-dashoffset="0.5" d="M505.56 1071.20V535.70"/><path stroke-dashoffset="0.5" d="M584.97 1071.20V535.70"/><path stroke-dashoffset="0.5" d="M664.39 1071.20V535.70"/><path d="M108.50 624.95H743.80"/><path d="M108.50 714.20H743.80"/><path d="M108.50 803.45H743.80"/><path d="M108.50 892.70H743.80"/><path d="M108.50 981.95H743.80"/></g>
<g stroke="#4a4a4a" stroke-width="1.35" fill="none"><path d="M187.91 535.70v7M187.91 1071.20v-7"/><path d="M267.32 535.70v7M267.32 1071.20v-7"/><path d="M346.74 535.70v7M346.74 1071.20v-7"/><path d="M426.15 535.70v7M426.15 1071.20v-7"/><path d="M505.56 535.70v7M505.56 1071.20v-7"/><path d="M584.97 535.70v7M584.97 1071.20v-7"/><path d="M664.39 535.70v7M664.39 1071.20v-7"/><path d="M108.50 624.95h7M745.00 624.95h-8.2"/><path d="M108.50 714.20h7M745.00 714.20h-8.2"/><path d="M108.50 803.45h7M745.00 803.45h-8.2"/><path d="M108.50 892.70h7M745.00 892.70h-8.2"/><path d="M108.50 981.95h7M745.00 981.95h-8.2"/></g>
<rect x="108.50" y="535.70" width="635.30" height="535.50" fill="none" stroke="#4c4c4c" stroke-width="1.7"/>
<path d="M424.00 806.50C426.58 799.25 428.85 789.82 432.30 779.70C435.75 769.58 440.58 756.85 444.70 745.80C448.82 734.75 453.40 722.65 457.00 713.40C460.60 704.15 463.22 697.23 466.30 690.30C469.38 683.37 471.90 678.48 475.50 671.80C479.10 665.12 483.78 656.88 487.90 650.20C492.02 643.52 496.10 637.35 500.20 631.70C504.30 626.05 508.38 620.67 512.50 616.30C516.62 611.93 520.78 608.43 524.90 605.50C529.02 602.57 533.10 600.50 537.20 598.70C541.30 596.90 545.38 595.63 549.50 594.70C553.62 593.77 557.78 593.10 561.90 593.10C566.02 593.10 570.08 593.77 574.20 594.70C578.32 595.63 582.48 597.27 586.60 598.70C590.72 600.13 594.80 601.65 598.90 603.30C603.00 604.95 607.08 606.43 611.20 608.60C615.32 610.77 619.48 613.48 623.60 616.30C627.72 619.12 632.30 622.42 635.90 625.50C639.50 628.58 642.12 631.20 645.20 634.80C648.28 638.40 651.83 643.00 654.40 647.10C656.97 651.20 659.00 654.77 660.60 659.40C662.20 664.03 663.75 670.27 664.00 674.90C664.25 679.53 663.18 683.35 662.10 687.20C661.02 691.05 659.80 694.15 657.50 698.00C655.20 701.85 651.90 706.33 648.30 710.30C644.70 714.27 640.53 718.20 635.90 721.80C631.27 725.40 625.63 728.67 620.50 731.90C615.37 735.13 610.75 738.12 605.10 741.20C599.45 744.28 592.77 747.32 586.60 750.40C580.43 753.48 574.28 756.87 568.10 759.70C561.92 762.53 555.68 764.98 549.50 767.40C543.32 769.82 537.17 772.03 531.00 774.20C524.83 776.37 518.67 778.35 512.50 780.40C506.33 782.45 500.17 784.45 494.00 786.50C487.83 788.55 481.67 790.73 475.50 792.70C469.33 794.67 463.17 796.58 457.00 798.30C450.83 800.02 444.00 801.63 438.50 803.00C433.00 804.37 429.68 804.78 424.00 806.50C418.32 808.22 410.75 811.18 404.40 813.30C398.05 815.42 392.07 817.20 385.90 819.20C379.73 821.20 373.57 823.35 367.40 825.30C361.23 827.25 355.07 828.93 348.90 830.90C342.73 832.87 336.57 834.95 330.40 837.10C324.23 839.25 317.82 841.60 311.90 843.80C305.98 846.00 301.07 847.82 294.90 850.30C288.73 852.78 281.32 856.02 274.90 858.70C268.48 861.38 262.07 863.93 256.40 866.40C250.73 868.87 245.78 871.20 240.90 873.50C236.02 875.80 231.72 877.38 227.10 880.20C222.48 883.02 217.58 886.80 213.20 890.40C208.82 894.00 204.15 897.83 200.80 901.80C197.45 905.77 195.07 909.82 193.10 914.20C191.13 918.58 189.35 923.73 189.00 928.10C188.65 932.47 189.80 936.30 191.00 940.40C192.20 944.50 193.53 948.33 196.20 952.70C198.87 957.07 202.63 961.97 207.00 966.60C211.37 971.23 217.25 976.38 222.40 980.50C227.55 984.62 232.75 988.12 237.90 991.30C243.05 994.48 248.17 997.38 253.30 999.60C258.43 1001.82 263.05 1003.42 268.70 1004.60C274.35 1005.78 281.55 1006.70 287.20 1006.70C292.85 1006.70 297.45 1005.88 302.60 1004.60C307.75 1003.32 312.95 1001.47 318.10 999.00C323.25 996.53 328.88 993.40 333.50 989.80C338.12 986.20 342.20 981.78 345.80 977.40C349.40 973.02 351.50 969.42 355.10 963.50C358.70 957.58 363.28 949.60 367.40 941.90C371.52 934.20 376.20 925.00 379.80 917.30C383.40 909.60 385.92 903.17 389.00 895.70C392.08 888.23 395.22 880.47 398.30 872.50C401.38 864.53 404.42 856.12 407.50 847.90C410.58 839.68 414.05 830.10 416.80 823.20C419.55 816.30 421.42 813.75 424.00 806.50Z" fill="none" stroke="#0072bd" stroke-width="3.5" stroke-linejoin="round"/>
<path d="M294.90 850.30C291.57 851.70 281.32 856.02 274.90 858.70C268.48 861.38 262.07 863.93 256.40 866.40C250.73 868.87 245.78 871.20 240.90 873.50C236.02 875.80 229.40 879.08 227.10 880.20" fill="none" stroke="#0072bd" stroke-width="6.6" stroke-linecap="round"/>
<text transform="matrix(1.1598 0 0 1.1319 0 25.46)"><tspan x="65.19">4</tspan></text>
<text transform="matrix(1.2679 0 0 1.1039 0 137.00)"><tspan x="59.28">2</tspan></text>
<text transform="matrix(1.2840 0 0 1.1058 0 248.19)"><tspan x="58.26">0</tspan></text>
<text transform="matrix(1.2679 0 0 1.1147 0 359.30)"><tspan x="35.90" textLength="18.94" lengthAdjust="spacingAndGlyphs" dy="2.03" stroke="none">−</tspan><tspan x="56.59" dy="-2.03">2</tspan></text>
<text transform="matrix(1.2058 0 0 1.1538 0 463.36)"><tspan x="37.75" textLength="19.92" lengthAdjust="spacingAndGlyphs" dy="2.00" stroke="none">−</tspan><tspan x="59.61" dy="-2.00">4</tspan></text>
<text transform="matrix(1.2313 0 0 1.1082 0 25.03)"><tspan x="610.78">0.4</tspan></text>
<text transform="matrix(1.2554 0 0 1.0977 0 130.84)"><tspan x="599.04">0.2</tspan></text>
<text transform="matrix(1.3180 0 0 1.1376 0 245.18)"><tspan x="570.53">0</tspan></text>
<text transform="matrix(1.2678 0 0 1.0819 0 356.95)"><tspan x="595.76" textLength="19.23" lengthAdjust="spacingAndGlyphs" dy="2.23" stroke="none">−</tspan><tspan x="616.30" dy="-2.23">0.2</tspan></text>
<text transform="matrix(1.2433 0 0 1.0872 0 456.94)"><tspan x="607.50" textLength="19.61" lengthAdjust="spacingAndGlyphs" dy="2.23" stroke="none">−</tspan><tspan x="628.47" dy="-2.23">0.4</tspan></text>
<text transform="matrix(1.1821 0 0 1.1029 0 486.24)"><tspan x="152.38">0.3594</tspan></text>
<text transform="matrix(1.1838 0 0 1.1029 0 486.24)"><tspan x="259.53">0.3598</tspan></text>
<text transform="matrix(1.1905 0 0 1.0977 0 486.34)"><tspan x="370.62">0.3602</tspan></text>
<text transform="matrix(1.1834 0 0 1.0977 0 486.34)"><tspan x="482.12">0.3606</tspan></text>
<text transform="matrix(1.1728 0 0 1.0924 0 486.24)"><tspan x="597.68">0.361</tspan></text>
<text transform="matrix(1.4471 0 0 1.2817 0 518.36)"><tspan x="277.65" textLength="9.34" lengthAdjust="spacingAndGlyphs" font-style="italic">t</tspan> <tspan x="298.00">(s)</tspan></text>
<text transform="matrix(1.3445 0 0 1.1349 0 40.43)"><tspan x="76.20">(a)</tspan></text>
<text transform="matrix(1.2000 0 0 1.1039 0 52.10)"><tspan x="487.17" textLength="9.34" lengthAdjust="spacingAndGlyphs" font-style="italic">i</tspan></text>
<text transform="matrix(1.2000 0 0 1.1290 0 48.18)"><tspan x="584.69" textLength="12.73" lengthAdjust="spacingAndGlyphs" font-style="italic">v</tspan></text>
<text transform="translate(0.00 286.10) rotate(-90) matrix(1.3181 0 0 1.2976 0 28.77)"><tspan x="-0.30" textLength="9.34" lengthAdjust="spacingAndGlyphs" font-style="italic">i</tspan> <tspan x="19.34">(µA)</tspan></text>
<text transform="translate(0.00 274.10) rotate(-90) matrix(1.3819 0 0 1.3135 0 835.68)"><tspan x="-0.59" textLength="12.25" lengthAdjust="spacingAndGlyphs" font-style="italic">v</tspan> <tspan x="23.38">(V)</tspan></text>
<text transform="matrix(1.2021 0 0 1.0928 0 549.99)"><tspan x="66.27">3</tspan></text>
<text transform="matrix(1.2679 0 0 1.1147 0 639.00)"><tspan x="63.06">2</tspan></text>
<text transform="matrix(1.2041 0 0 1.1123 0 729.20)"><tspan x="66.20">1</tspan></text>
<text transform="matrix(1.2840 0 0 1.1005 0 818.29)"><tspan x="62.00">0</tspan></text>
<text transform="matrix(1.1633 0 0 1.1014 0 906.80)"><tspan x="46.92" textLength="21.06" lengthAdjust="spacingAndGlyphs" dy="2.09" stroke="none">−</tspan><tspan x="69.65" dy="-2.09">1</tspan></text>
<text transform="matrix(1.2768 0 0 1.0931 0 996.80)"><tspan x="42.75" textLength="19.19" lengthAdjust="spacingAndGlyphs" dy="2.03" stroke="none">−</tspan><tspan x="63.16" dy="-2.03">2</tspan></text>
<text transform="matrix(1.2456 0 0 1.0928 0 1073.49)"><tspan x="43.82" textLength="19.67" lengthAdjust="spacingAndGlyphs" dy="2.20" stroke="none">−</tspan><tspan x="64.63" dy="-2.20">3</tspan></text>
<text transform="matrix(1.2253 0 0 1.0924 0 1097.44)"><tspan x="47.94" textLength="19.40" lengthAdjust="spacingAndGlyphs" dy="2.23" stroke="none">−</tspan><tspan x="69.43" dy="-2.23">0.4</tspan></text>
<text transform="matrix(1.2515 0 0 1.0924 0 1097.44)"><tspan x="115.65" textLength="18.99" lengthAdjust="spacingAndGlyphs" dy="2.23" stroke="none">−</tspan><tspan x="136.67" dy="-2.23">0.3</tspan></text>
<text transform="matrix(1.2585 0 0 1.0924 0 1097.44)"><tspan x="185.57" textLength="18.89" lengthAdjust="spacingAndGlyphs" dy="2.23" stroke="none">−</tspan><tspan x="206.47" dy="-2.23">0.2</tspan></text>
<text transform="matrix(1.2329 0 0 1.0924 0 1097.44)"><tspan x="255.77" textLength="19.28" lengthAdjust="spacingAndGlyphs" dy="2.23" stroke="none">−</tspan><tspan x="277.20" dy="-2.23">0.1</tspan></text>
<text transform="matrix(1.2500 0 0 1.1005 0 1097.59)"><tspan x="334.36">0</tspan></text>
<text transform="matrix(1.2267 0 0 1.0924 0 1097.44)"><tspan x="392.49">0.1</tspan></text>
<text transform="matrix(1.2647 0 0 1.0924 0 1097.44)"><tspan x="443.22">0.2</tspan></text>
<text transform="matrix(1.2302 0 0 1.0924 0 1097.44)"><tspan x="520.97">0.3</tspan></text>
<text transform="matrix(1.2313 0 0 1.0924 0 1097.44)"><tspan x="581.71">0.4</tspan></text>
<text transform="matrix(1.4231 0 0 1.2976 0 1146.17)"><tspan x="270.57" textLength="12.55" lengthAdjust="spacingAndGlyphs" font-style="italic">v</tspan> <tspan x="293.77">(V)</tspan></text>
<text transform="matrix(1.2890 0 0 1.1508 0 565.73)"><tspan x="88.46">(b)</tspan></text>
<text transform="translate(0.00 866.50) rotate(-90) matrix(1.3181 0 0 1.2976 0 28.77)"><tspan x="-0.30" textLength="9.34" lengthAdjust="spacingAndGlyphs" font-style="italic">i</tspan> <tspan x="19.34">(µA)</tspan></text>
<text transform="matrix(1.1949 0 0 1.0921 0 973.60)"><tspan x="427.63" textLength="9.34" lengthAdjust="spacingAndGlyphs" font-style="italic">f</tspan> <tspan x="444.54" textLength="22.43" lengthAdjust="spacingAndGlyphs" dy="3.33" stroke="none">=</tspan> <tspan x="472.01" textLength="13.77" lengthAdjust="spacingAndGlyphs" dy="-3.33">4</tspan> <tspan x="491.58">kHz</tspan></text>
</svg></body></html>
